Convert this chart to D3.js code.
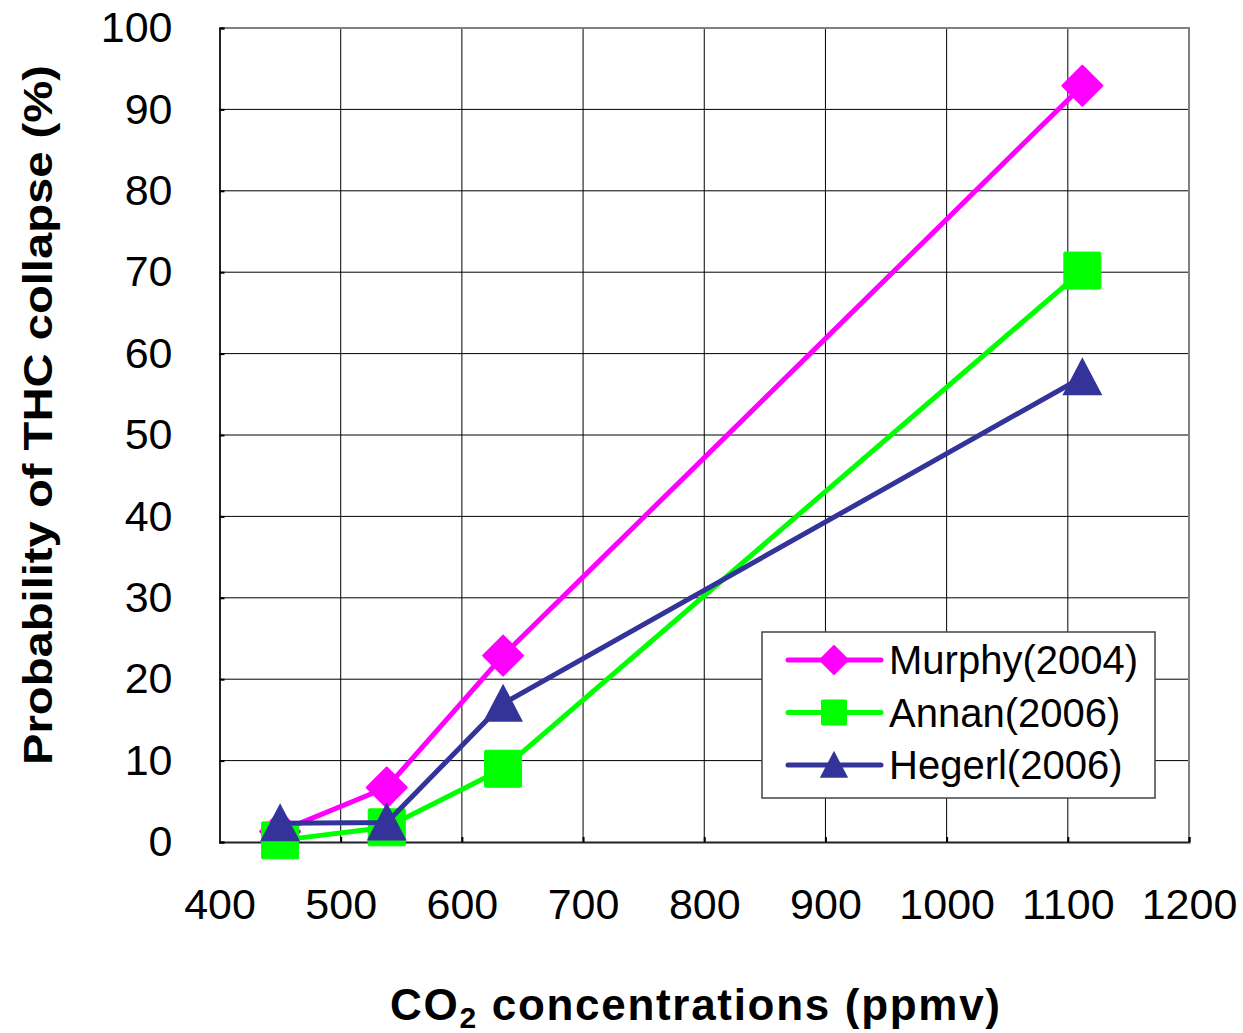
<!DOCTYPE html>
<html>
<head>
<meta charset="utf-8">
<script src="https://cdn.jsdelivr.net/npm/d3@7"></script>
<style>
  body { margin: 0; background: #fff; }
  text { font-family: "Liberation Sans", Arial, sans-serif; }
</style>
</head>
<body>
<script>
// data
const co2 = [450, 538, 634, 1112];
const murphy = [1.3, 6.7, 22.9, 92.9];
const annan = [0.2, 1.8, 9.0, 70.2];
const hegerl = [2.3, 2.4, 17.0, 57.1];
const seriesNames = ["Murphy(2004)", "Annan(2006)", "Hegerl(2006)"];
const xTicks = [400, 500, 600, 700, 800, 900, 1000, 1100, 1200];
const yTicks = [0, 10, 20, 30, 40, 50, 60, 70, 80, 90, 100];

const W = 1243, H = 1033;
const margin = {top: 28, right: 54, bottom: 191, left: 219.5};
const width = W - margin.left - margin.right,
  height = H - margin.top - margin.bottom;

const svg = d3.select("body").append("svg")
  .attr("width", W).attr("height", H);
const g = svg.append("g")
  .attr("transform", `translate(${margin.left},${margin.top})`);

const x = d3.scaleLinear().domain([400, 1200]).range([0, width]);
const y = d3.scaleLinear().domain([0, 100]).range([height, 0]);

// grid
g.append("g").selectAll("line").data(xTicks.slice(1, -1)).join("line")
  .attr("x1", d => x(d)).attr("x2", d => x(d))
  .attr("y1", 0).attr("y2", height)
  .attr("stroke", "#000").attr("stroke-width", 1);
g.append("g").selectAll("line").data(yTicks.slice(1, -1)).join("line")
  .attr("y1", d => y(d)).attr("y2", d => y(d))
  .attr("x1", 0).attr("x2", width)
  .attr("stroke", "#000").attr("stroke-width", 1);
// top / right border
g.append("path")
  .attr("d", `M0,0H${width}V${height}`)
  .attr("fill", "none").attr("stroke", "#808080").attr("stroke-width", 2);

// axes
const xAxis = g.append("g")
  .attr("transform", `translate(0,${height})`)
  .call(d3.axisBottom(x).tickValues(xTicks).tickSize(-5).tickPadding(53).tickFormat(d3.format("d")));
const yAxis = g.append("g")
  .call(d3.axisLeft(y).tickValues(yTicks).tickSize(-5).tickPadding(47).tickFormat(d3.format("d")));
[xAxis, yAxis].forEach(a => {
  a.select(".domain").attr("stroke", "#222").attr("stroke-width", 2);
  a.selectAll(".tick line").attr("stroke", "#000").attr("stroke-width", 2);
  a.selectAll("text").attr("fill", "#000")
    .style("font-family", '"Liberation Sans", Arial, sans-serif')
    .style("font-size", "43px");
});
xAxis.selectAll("text").attr("dy", "0.55em");

// series
const series = [
  {name: seriesNames[0], vals: murphy, color: "#FF00FF", sym: "diamond"},
  {name: seriesNames[1], vals: annan, color: "#00FF00", sym: "square"},
  {name: seriesNames[2], vals: hegerl, color: "#333399", sym: "triangle"}
];

function marker(sel, sym, s, color) {
  if (sym === "diamond") {
    sel.append("path").attr("d", `M0,${-s}L${s},0L0,${s}L${-s},0Z`)
      .attr("fill", color).attr("stroke", color).attr("stroke-width", 2).attr("stroke-linejoin", "round");
  } else if (sym === "square") {
    sel.append("rect").attr("x", -s).attr("y", -s).attr("width", 2 * s).attr("height", 2 * s)
      .attr("fill", color).attr("stroke", color).attr("stroke-width", 1).attr("rx", 1);
  } else {
    sel.append("path").attr("d", `M0,${-s * 1.05}L${s * 1.05},${s * 0.95}L${-s * 1.05},${s * 0.95}Z`)
      .attr("fill", color);
  }
}

const line = d3.line().x(d => x(d[0])).y(d => y(d[1]));
series.forEach(sr => {
  const pts = co2.map((c, i) => [c, sr.vals[i]]);
  g.append("path").datum(pts).attr("d", line)
    .attr("fill", "none").attr("stroke", sr.color).attr("stroke-width", 5)
    .attr("stroke-linejoin", "round").attr("stroke-linecap", "round");
  const size = sr.sym === "diamond" ? 20 : sr.sym === "square" ? 18.5 : 19;
  pts.forEach(p => {
    const m = g.append("g").attr("transform", `translate(${x(p[0])},${y(p[1])})`);
    marker(m, sr.sym, size, sr.color);
  });
});

// legend
const leg = svg.append("g").attr("transform", "translate(762,632)");
leg.append("rect").attr("width", 393).attr("height", 166)
  .attr("fill", "#fff").attr("stroke", "#444").attr("stroke-width", 1.5);
series.forEach((sr, i) => {
  const row = leg.append("g").attr("transform", `translate(0,${28 + i * 52.5})`);
  row.append("line").attr("x1", 26).attr("x2", 119)
    .attr("stroke", sr.color).attr("stroke-width", 5).attr("stroke-linecap", "round");
  const m = row.append("g").attr("transform", "translate(72,0)");
  marker(m, sr.sym, sr.sym === "diamond" ? 14 : sr.sym === "square" ? 12.5 : 13.5, sr.color);
  row.append("text").attr("x", 127).attr("y", 0).attr("dy", "0.36em")
    .style("font-size", "40px").attr("fill", "#000").text(sr.name);
});

// axis titles
const xt = svg.append("text")
  .attr("x", 695).attr("y", 1020)
  .attr("text-anchor", "middle")
  .attr("textLength", 610).attr("lengthAdjust", "spacing")
  .style("font-size", "44px").style("font-weight", "bold");
xt.append("tspan").text("CO");
xt.append("tspan").attr("baseline-shift", "-25%").style("font-size", "30px").text("2");
xt.append("tspan").text(" concentrations (ppmv)");

svg.append("text")
  .attr("transform", "translate(52,415) rotate(-90)")
  .attr("text-anchor", "middle")
  .attr("textLength", 700).attr("lengthAdjust", "spacingAndGlyphs")
  .style("font-size", "40px").style("font-weight", "bold")
  .text("Probability of THC collapse (%)");
</script>
</body>
</html>
